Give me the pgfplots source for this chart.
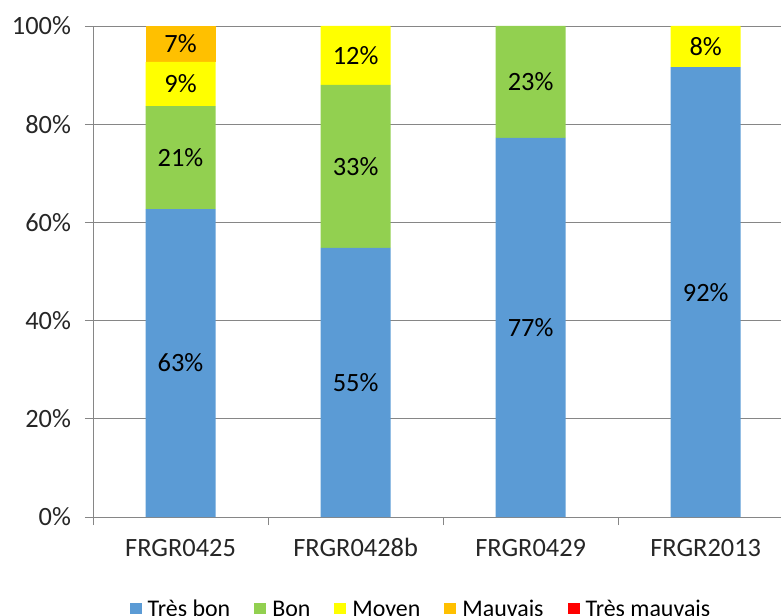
\documentclass[border=0pt]{standalone}
\usepackage{pgfplots}
\pgfplotsset{compat=1.18}
\usepackage{fontspec}
\setmainfont{Carlito}
\definecolor{cA}{HTML}{5B9BD5}
\definecolor{cB}{HTML}{92D050}
\definecolor{cC}{HTML}{FFFF00}
\definecolor{cD}{HTML}{FFC000}
\definecolor{cE}{HTML}{FF0000}
\definecolor{gridgray}{HTML}{868686}
\begin{document}
\begin{tikzpicture}
\begin{axis}[
  scale only axis, width=688bp, height=491bp,
  ybar stacked, bar width=70bp,
  xmin=-0.5, xmax=3.43, ymin=0, ymax=100,
  axis x line*=bottom, axis y line*=left,
  axis line style={draw=gridgray, line width=0.8pt},
  xtick={0,1,2,3}, xticklabels={FRGR0425,FRGR0428b,FRGR0429,FRGR2013},
  major x tick style={draw=none},
  extra x ticks={-0.5,0.5,1.5,2.5}, extra x tick labels={},
  extra x tick style={major x tick style={draw=gridgray, line width=0.8pt}, grid=none},
  ytick={0,20,...,100},
  /pgf/number format/assume math mode=true,
  yticklabel={\pgfmathprintnumber{\tick}\%},
  ymajorgrids, grid style={draw=gridgray, line width=0.8pt},
  major y tick style={draw=gridgray, line width=0.8pt},
  tick align=outside, major tick length=8bp,
  tick label style={font=\fontsize{26.5}{30}\selectfont, text=black!85},
  xticklabel style={text height=20bp, text depth=6bp, yshift=-8bp},
  yticklabel style={xshift=-10.5bp},
  point meta=explicit symbolic,
  nodes near coords,
  every node near coord/.append style={anchor=center, font=\fontsize{26.5}{30}\selectfont, text=black},
  legend columns=-1,
  legend style={at={(0.4753,-0.188)}, anchor=center, draw=none, font=\fontsize{24}{28}\selectfont,
    nodes={inner xsep=0bp},
    /tikz/every odd column/.append style={column sep=6bp},
    /tikz/every even column/.append style={column sep=24bp}},
  legend image code/.code={\fill[#1] (0bp,-4.5bp) rectangle (12bp,6.5bp);},
]
\addplot[fill=cA, draw=none] coordinates {(0,62.7)[63\%] (1,54.8)[55\%] (2,77.2)[77\%] (3,91.6)[92\%]};
\addplot[fill=cB, draw=none] coordinates {(0,21)[21\%] (1,33.2)[33\%] (2,22.8)[23\%] (3,0)[]};
\addplot[fill=cC, draw=none] coordinates {(0,9)[9\%] (1,12)[12\%] (2,0)[] (3,8.4)[8\%]};
\addplot[fill=cD, draw=none] coordinates {(0,7.3)[7\%] (1,0)[] (2,0)[] (3,0)[]};
\addplot[fill=cE, draw=none] coordinates {(0,0)[] (1,0)[] (2,0)[] (3,0)[]};
\legend{Très bon, Bon, Moyen, Mauvais, Très mauvais}
\coordinate (bl) at (rel axis cs:0,0);
\coordinate (tr) at (rel axis cs:1,1);
\end{axis}
\pgfresetboundingbox
\path[use as bounding box] ([xshift=-93bp,yshift=-99bp]bl) rectangle ([yshift=26bp]tr);
\end{tikzpicture}
\end{document}
